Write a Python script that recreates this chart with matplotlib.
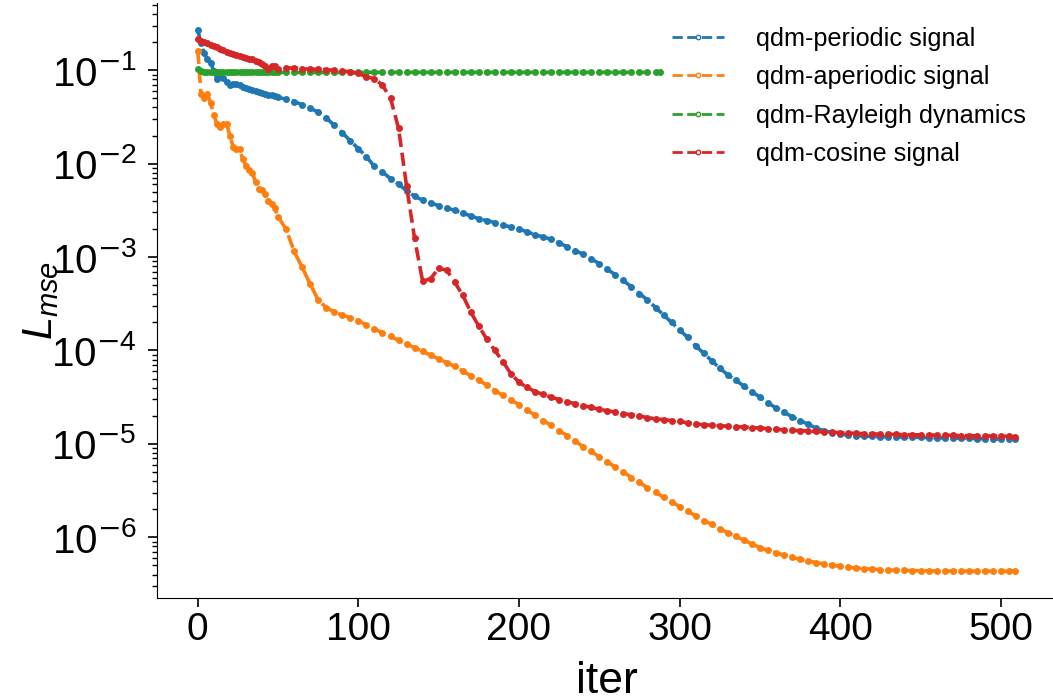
import numpy as np
import matplotlib
matplotlib.use('Agg')
import matplotlib.pyplot as plt
from matplotlib.ticker import FuncFormatter

plt.rcParams['font.family'] = ['Liberation Sans', 'DejaVu Sans']
plt.rcParams['mathtext.fontset'] = 'custom'
plt.rcParams['mathtext.it'] = 'Liberation Sans:italic'
plt.rcParams['mathtext.rm'] = 'Liberation Sans'
plt.rcParams['mathtext.sf'] = 'DejaVu Sans'

iters = np.array(list(range(0, 51, 2)) + list(range(55, 506, 5)) + [509])

# log10 of L_mse
periodic_log10 = [
    -0.573, -0.71, -0.82, -0.88, -0.92, -1.01, -1.09, -1.07, -1.08, -1.13,
    -1.16, -1.15, -1.15, -1.16, -1.175, -1.185, -1.20, -1.21, -1.22, -1.235,
    -1.245, -1.255, -1.26, -1.27, -1.28, -1.29,
    -1.31, -1.335, -1.37, -1.406, -1.45, -1.51, -1.59, -1.67, -1.755, -1.84,
    -1.926, -2.03, -2.09, -2.16, -2.22, -2.29, -2.35, -2.39, -2.42, -2.45,
    -2.475, -2.50, -2.53, -2.56, -2.59, -2.61, -2.63, -2.655, -2.68, -2.70,
    -2.73, -2.76, -2.785, -2.81, -2.85, -2.89, -2.93, -2.97, -3.02, -3.07,
    -3.13, -3.19, -3.25, -3.32, -3.39, -3.46, -3.54, -3.62, -3.70, -3.78,
    -3.86, -3.95, -4.03, -4.11, -4.19, -4.26, -4.32, -4.38, -4.44, -4.50,
    -4.56, -4.615, -4.66, -4.71, -4.75, -4.79, -4.83, -4.86, -4.88, -4.895,
    -4.905, -4.91, -4.915, -4.92, -4.922, -4.924, -4.926, -4.928, -4.929, -4.93,
    -4.932, -4.934, -4.936, -4.938, -4.94, -4.941, -4.943, -4.945, -4.946, -4.948,
    -4.949, -4.95,
]

aperiodic_log10 = [
    -0.79, -1.25, -1.30, -1.25, -1.35, -1.48, -1.58, -1.61, -1.58, -1.58,
    -1.70, -1.82, -1.84, -1.845, -1.95, -2.02, -2.07, -2.10, -2.20, -2.27,
    -2.285, -2.33, -2.40, -2.43, -2.48, -2.57,
    -2.70, -2.94, -3.11, -3.29, -3.46, -3.54, -3.59, -3.62, -3.65, -3.68,
    -3.73, -3.77, -3.81, -3.85, -3.89, -3.93, -3.97, -4.01, -4.05, -4.09,
    -4.13, -4.17, -4.22, -4.27, -4.32, -4.37, -4.43, -4.48, -4.53, -4.58,
    -4.64, -4.69, -4.75, -4.80, -4.86, -4.91, -4.97, -5.03, -5.08, -5.14,
    -5.19, -5.25, -5.30, -5.36, -5.41, -5.47, -5.52, -5.57, -5.62, -5.67,
    -5.72, -5.77, -5.82, -5.86, -5.91, -5.95, -5.99, -6.03, -6.07, -6.11,
    -6.14, -6.165, -6.19, -6.215, -6.235, -6.255, -6.27, -6.285, -6.30, -6.31,
    -6.32, -6.33, -6.335, -6.34, -6.345, -6.35, -6.352, -6.354, -6.356, -6.357,
    -6.358, -6.359, -6.36, -6.36, -6.361, -6.361, -6.362, -6.362, -6.362, -6.363,
    -6.363, -6.363,
]

cosine_log10 = [
    -0.669, -0.685, -0.70, -0.71, -0.725, -0.74, -0.755, -0.77, -0.785, -0.80,
    -0.812, -0.829, -0.84, -0.85, -0.858, -0.865, -0.875, -0.885, -0.90, -0.915,
    -0.93, -0.95, -0.985, -0.96, -0.952, -0.985,
    -0.975, -0.978, -0.985, -0.989, -0.99, -0.995, -1.0, -1.005, -1.02, -1.035,
    -1.07, -1.09, -1.16, -1.30, -1.62, -2.24, -2.80, -3.26, -3.23, -3.12,
    -3.14, -3.27, -3.41, -3.59, -3.74, -3.88, -4.00, -4.12, -4.25, -4.34,
    -4.395, -4.44, -4.47, -4.50, -4.525, -4.548, -4.57, -4.59, -4.61, -4.63,
    -4.645, -4.66, -4.675, -4.69, -4.70, -4.72, -4.73, -4.74, -4.75, -4.76,
    -4.775, -4.785, -4.795, -4.80, -4.805, -4.81, -4.815, -4.82, -4.825, -4.83,
    -4.837, -4.843, -4.85, -4.855, -4.858, -4.862, -4.867, -4.872, -4.876, -4.88,
    -4.885, -4.888, -4.89, -4.893, -4.895, -4.897, -4.899, -4.90, -4.902, -4.903,
    -4.905, -4.906, -4.907, -4.909, -4.91, -4.912, -4.913, -4.915, -4.916, -4.918,
    -4.92, -4.922,
]

# Rayleigh run stops at iteration 288
rayleigh_iters = np.append(iters[iters <= 285], 288)
rayleigh_log10 = [-0.983, -1.01] + [-1.023] * 72

labels = ['qdm-periodic signal', 'qdm-aperiodic signal',
          'qdm-Rayleigh dynamics', 'qdm-cosine signal']


def decade_label(v, pos):
    e = int(round(np.log10(v)))
    if e < 0:
        return r'$10^{\mathsf{-}%d}$' % (-e)
    return r'$10^{%d}$' % e


fig = plt.figure(figsize=(10.53, 7.0), dpi=100)
ax = fig.add_axes([0.149, 0.1453, 0.854, 0.850])

style = dict(linestyle='--', linewidth=2.6, marker='o', markersize=5.0,
             markeredgewidth=0)

ax.plot(iters, 10 ** np.array(periodic_log10), color='tab:blue',
        label=labels[0], **style)
ax.plot(iters, 10 ** np.array(aperiodic_log10), color='tab:orange',
        label=labels[1], **style)
ax.plot(rayleigh_iters, 10 ** np.array(rayleigh_log10), color='tab:green',
        label=labels[2], **style)
ax.plot(iters, 10 ** np.array(cosine_log10), color='tab:red',
        label=labels[3], **style)

ax.set_yscale('log')
ax.yaxis.set_major_formatter(FuncFormatter(decade_label))
ax.set_xticks([0, 100, 200, 300, 400, 500])
ax.set_xlabel('iter', fontsize=32, labelpad=9)
ax.set_ylabel(r'$L_{mse}$', fontsize=30)
ax.yaxis.set_label_coords(-0.106, 0.5)
ax.tick_params(axis='both', which='major', length=6.5, width=1.2)
ax.tick_params(axis='y', which='major', labelsize=29, pad=8)
ax.tick_params(axis='x', which='major', labelsize=28)
ax.tick_params(axis='y', which='minor', length=3.5, width=1.0)
ax.spines['top'].set_visible(False)
ax.spines['right'].set_visible(False)

leg = ax.legend(loc='upper left', bbox_to_anchor=(0.5726, 0.9605),
                frameon=False, fontsize=18.2, handlelength=2.05,
                handletextpad=1.3, labelspacing=0.57, borderpad=0,
                borderaxespad=0)
for h in leg.legend_handles:
    h.set_linewidth(2.0)
    h.set_markerfacecolor('white')
    h.set_markersize(3.2)
    h.set_markeredgewidth(1.0)

fig.savefig('out.png', dpi=100)
